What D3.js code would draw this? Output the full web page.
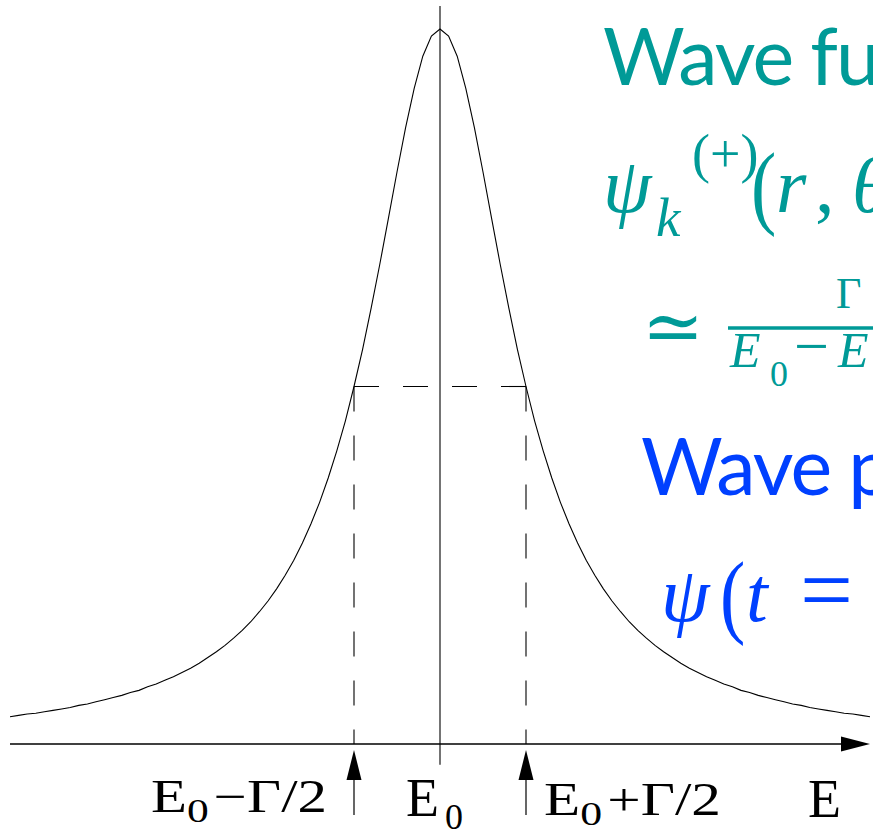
<!DOCTYPE html>
<html>
<head>
<meta charset="utf-8">
<script src="https://cdn.jsdelivr.net/npm/d3@7"></script>
<style>
  html, body { margin: 0; padding: 0; background: #fff; }
  #chart-container { width: 873px; height: 831px; overflow: hidden; }
</style>
</head>
<body>
<div id="chart-container"></div>
<script>
// Energy grid (in units of Γ/2 around E0) and the line shape
const energies = d3.range(-50, 51).map(i => i / 10);
const intensity = [
  0.038, 0.040, 0.042, 0.043, 0.045, 0.047, 0.049, 0.051, 0.054, 0.056,
  0.059, 0.062, 0.065, 0.068, 0.072, 0.075, 0.080, 0.084, 0.089, 0.094,
  0.100, 0.106, 0.113, 0.121, 0.129, 0.138, 0.148, 0.159, 0.171, 0.185,
  0.200, 0.217, 0.236, 0.257, 0.281, 0.308, 0.338, 0.372, 0.410, 0.452,
  0.500, 0.552, 0.610, 0.671, 0.735, 0.800, 0.862, 0.917, 0.962, 0.990,
  1.000,
  0.990, 0.962, 0.917, 0.862, 0.800, 0.735, 0.671, 0.610, 0.552, 0.500,
  0.452, 0.410, 0.372, 0.338, 0.308, 0.281, 0.257, 0.236, 0.217, 0.200,
  0.185, 0.171, 0.159, 0.148, 0.138, 0.129, 0.121, 0.113, 0.106, 0.100,
  0.094, 0.089, 0.084, 0.080, 0.075, 0.072, 0.068, 0.065, 0.062, 0.059,
  0.056, 0.054, 0.051, 0.049, 0.047, 0.045, 0.043, 0.042, 0.040, 0.038
];

// half maximum and the two energies E0 -/+ Γ/2
const halfMax = 0.5;
const halfWidthMarks = [-1, 1];

// axis labels below the E axis
const tickLabels = ["E", "0", "−Γ/2", "+Γ/2"];
const axisTitle = "E";

// annotation texts on the right
const waveFunctionTitle = "Wave function";
const wavePacketTitle = "Wave packet";

function LineShape() {
  const width = 873, height = 831;

  const x = d3.scaleLinear().domain([-5, 5]).range([10, 870]);
  const y = d3.scaleLinear().domain([0, 1]).range([744, 29]);

  const svg = d3.select(document.createElementNS("http://www.w3.org/2000/svg", "svg"))
    .attr("width", width)
    .attr("height", height)
    .attr("viewBox", `0 0 ${width} ${height}`);

  const teal = "#009a97";
  const blue = "#0040ff";
  const serif = "'Liberation Serif', 'DejaVu Serif', serif";
  const sans = "Lato, 'Open Sans', sans-serif";

  // energy axis with arrow head
  svg.append("line")
    .attr("x1", x(-5)).attr("x2", x(5) - 26)
    .attr("y1", y(0)).attr("y2", y(0))
    .attr("stroke", "#000").attr("stroke-width", 1.3);
  svg.append("path")
    .attr("d", `M${x(5) - 29},${y(0) - 7.5}L${x(5)},${y(0)}L${x(5) - 29},${y(0) + 7.5}Z`)
    .attr("fill", "#000");

  // vertical line at E0
  svg.append("line")
    .attr("x1", x(0)).attr("x2", x(0))
    .attr("y1", y(1.032)).attr("y2", y(-0.029))
    .attr("stroke", "#000").attr("stroke-width", 1.1);

  // dashed half-maximum guides
  const dashes = svg.append("g")
    .attr("stroke", "#000")
    .attr("stroke-width", 1.1)
    .attr("stroke-dasharray", "25,24")
    .attr("fill", "none");
  dashes.append("line")
    .attr("x1", x(halfWidthMarks[0])).attr("x2", x(halfWidthMarks[1]))
    .attr("y1", y(halfMax)).attr("y2", y(halfMax));
  dashes.selectAll("line.v")
    .data(halfWidthMarks)
    .join("line")
      .attr("class", "v")
      .attr("x1", d => x(d)).attr("x2", d => x(d))
      .attr("y1", y(halfMax)).attr("y2", y(0));

  // the resonance curve
  const line = d3.line()
    .x((d, i) => x(energies[i]))
    .y(d => y(d));
  svg.append("path")
    .datum(intensity)
    .attr("d", line)
    .attr("fill", "none")
    .attr("stroke", "#000")
    .attr("stroke-width", 1.1);

  // arrows pointing at E0 -/+ Γ/2
  const arrows = svg.append("g");
  arrows.selectAll("line")
    .data(halfWidthMarks)
    .join("line")
      .attr("x1", d => x(d)).attr("x2", d => x(d))
      .attr("y1", 815).attr("y2", 778)
      .attr("stroke", "#000").attr("stroke-width", 1.2);
  arrows.selectAll("path")
    .data(halfWidthMarks)
    .join("path")
      .attr("d", d => `M${x(d) - 7.5},780L${x(d)},750L${x(d) + 7.5},780Z`)
      .attr("fill", "#000");

  // labels under the axis
  const labels = svg.append("g")
    .attr("font-family", serif)
    .attr("fill", "#000");

  const left = labels.append("text")
    .attr("x", x(-1) - 203).attr("y", 812)
    .attr("font-size", 46)
    .attr("textLength", 176)
    .attr("lengthAdjust", "spacingAndGlyphs");
  left.append("tspan").text(tickLabels[0]);
  left.append("tspan").attr("font-size", 34).attr("dy", 10).text(tickLabels[1]);
  left.append("tspan").attr("dy", -10).attr("dx", 4).text(tickLabels[2]);

  const mid = labels.append("text")
    .attr("x", x(0) - 34).attr("y", 816)
    .attr("font-size", 54);
  mid.append("tspan").text(tickLabels[0]);
  mid.append("tspan").attr("font-size", 36).attr("dy", 13).attr("dx", 6).text(tickLabels[1]);

  const right = labels.append("text")
    .attr("x", x(1) + 18).attr("y", 815)
    .attr("font-size", 46)
    .attr("textLength", 177)
    .attr("lengthAdjust", "spacingAndGlyphs");
  right.append("tspan").text(tickLabels[0]);
  right.append("tspan").attr("font-size", 34).attr("dy", 10).text(tickLabels[1]);
  right.append("tspan").attr("dy", -10).attr("dx", 4).text(tickLabels[3]);

  labels.append("text")
    .attr("x", x(5) - 62).attr("y", 817)
    .attr("font-size", 54)
    .text(axisTitle);

  // annotations on the right
  const notes = svg.append("g");

  // tall thin parenthesis: stretched vertically so the stroke stays light
  function paren(g, ch, px, py, color) {
    g.append("text")
      .attr("transform", `translate(${px},${py}) scale(1,1.22)`)
      .attr("font-family", serif)
      .attr("font-size", 76)
      .attr("fill", color)
      .text(ch);
  }

  notes.append("text")
    .attr("x", 603).attr("y", 85)
    .attr("font-family", sans)
    .attr("font-size", 79)
    .attr("letter-spacing", -2)
    .attr("fill", teal)
    .text(waveFunctionTitle);

  const psiK = notes.append("text")
    .attr("font-family", serif)
    .attr("fill", teal)
    .attr("font-size", 78);
  psiK.append("tspan").attr("x", 603).attr("y", 212).attr("font-style", "italic").text("ψ");
  psiK.append("tspan").attr("x", 656).attr("y", 236).attr("font-size", 55).attr("font-style", "italic").text("k");
  psiK.append("tspan").attr("x", 692).attr("y", 172).attr("font-size", 54).text("(+)");
  psiK.append("tspan").attr("x", 776).attr("y", 212).attr("font-style", "italic").text("r");
  psiK.append("tspan").attr("x", 815).text(",");
  psiK.append("tspan").attr("x", 852).attr("font-style", "italic").text("θ, φ)");
  paren(notes, "(", 751, 217, teal);

  const approx = notes.append("g")
    .attr("font-family", serif)
    .attr("fill", teal);
  approx.append("text")
    .attr("x", 642).attr("y", 352)
    .attr("font-family", "'DejaVu Serif', serif")
    .attr("font-size", 74)
    .text("≃");
  approx.append("line")
    .attr("x1", 728).attr("x2", 880)
    .attr("y1", 328).attr("y2", 328)
    .attr("stroke", teal).attr("stroke-width", 3.4);
  approx.append("text")
    .attr("x", 836).attr("y", 308)
    .attr("font-size", 44)
    .text("Γ");
  const denom = approx.append("text")
    .attr("font-size", 50);
  denom.append("tspan").attr("x", 730).attr("y", 367).attr("font-style", "italic").text("E");
  denom.append("tspan").attr("x", 770).attr("y", 386).attr("font-size", 36).text("0");
  denom.append("tspan").attr("x", 794).attr("y", 367).attr("font-size", 62).text("−");
  denom.append("tspan").attr("x", 838).attr("y", 367).attr("font-style", "italic").text("E");

  notes.append("text")
    .attr("x", 641).attr("y", 495)
    .attr("font-family", sans)
    .attr("font-size", 79)
    .attr("letter-spacing", -2)
    .attr("fill", blue)
    .text(wavePacketTitle);

  const psiT = notes.append("text")
    .attr("font-family", serif)
    .attr("font-size", 78)
    .attr("fill", blue);
  psiT.append("tspan").attr("x", 661).attr("y", 621).attr("font-style", "italic").text("ψ");
  psiT.append("tspan").attr("x", 746).attr("y", 621).attr("font-style", "italic").text("t");
  psiT.append("tspan").attr("x", 800).attr("font-size", 94).text("=");
  psiT.append("tspan").attr("x", 880).text("0)");
  paren(notes, "(", 720, 626, blue);

  return svg.node();
}

document.getElementById("chart-container").appendChild(LineShape());
</script>
</body>
</html>
